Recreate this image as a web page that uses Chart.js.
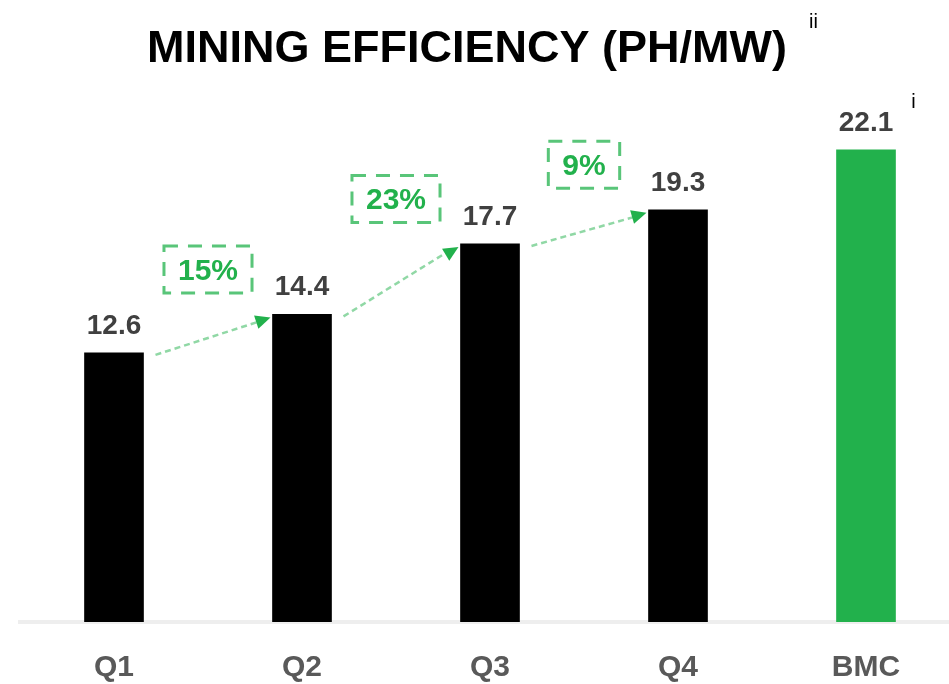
<!DOCTYPE html>
<html>
<head>
<meta charset="utf-8">
<script src="https://cdn.jsdelivr.net/npm/chart.js@4"></script>
<style>
  html, body { margin: 0; padding: 0; background: #fff; overflow: hidden; }
  #wrap { position: absolute; left: -26px; top: 0; width: 986px; height: 684px; }
</style>
</head>
<body>
<div id="wrap"><canvas id="effChart" width="986" height="684"></canvas></div>
<script>
const categories = ['Q1', 'Q2', 'Q3', 'Q4', 'BMC'];
const efficiency = [12.6, 14.4, 17.7, 19.3, 22.1];
const barColors = ['#000000', '#000000', '#000000', '#000000', '#22B14C'];
const growthLabels = ['15%', '23%', '9%'];
const chartTitle = 'MINING EFFICIENCY (PH/MW)';
const titleNote = 'ii';
const bmcNote = 'i';

const GREEN = '#22B14C';
const FONT = '"Liberation Sans", Arial, sans-serif';

// superscript after the title
const titleNotePlugin = {
    id: 'titleNote',
    afterDraw(chart) {
        const ctx = chart.ctx;
        ctx.save();
        ctx.font = 'bold 45px ' + FONT;
        const w = ctx.measureText(chartTitle).width;
        const cx = chart.width / 2;
        ctx.font = '20px ' + FONT;
        ctx.fillStyle = '#000';
        ctx.textAlign = 'left';
        ctx.textBaseline = 'alphabetic';
        ctx.fillText(titleNote, cx + w / 2 + 22, 28);
        ctx.restore();
    }
};

// value labels, growth boxes and arrows
const annotationsPlugin = {
    id: 'annotations',
    afterDatasetsDraw(chart) {
        const ctx = chart.ctx;
        const bars = chart.getDatasetMeta(0).data;
        ctx.save();

        // value labels
        ctx.font = 'bold 28px ' + FONT;
        ctx.fillStyle = '#404040';
        ctx.textAlign = 'center';
        ctx.textBaseline = 'alphabetic';
        bars.forEach((bar, i) => {
            ctx.fillText(efficiency[i].toFixed(1), bar.x, bar.y - 19);
        });

        // footnote mark on BMC label
        const last = bars[bars.length - 1];
        const lw = ctx.measureText(efficiency[efficiency.length - 1].toFixed(1)).width;
        ctx.font = '20px ' + FONT;
        ctx.fillStyle = '#000';
        ctx.textAlign = 'left';
        ctx.fillText(bmcNote, last.x + lw / 2 + 18, last.y - 42);

        // growth arrows + dashed boxes
        growthLabels.forEach((txt, i) => {
            const a = bars[i], b = bars[i + 1];
            const x0 = a.x + a.width / 2 + 12, y0 = a.y + 2;
            const x1 = b.x - b.width / 2 - 2, y1 = b.y + 3;

            ctx.setLineDash([6, 4]);
            ctx.strokeStyle = 'rgba(34,177,76,0.5)';
            ctx.lineWidth = 2.5;
            ctx.beginPath();
            ctx.moveTo(x0, y0);
            ctx.lineTo(x1 - 8, y1 + 3);
            ctx.stroke();
            ctx.setLineDash([]);

            const ang = Math.atan2(y1 - y0, x1 - x0);
            const len = 15, half = 7;
            ctx.fillStyle = GREEN;
            ctx.beginPath();
            ctx.moveTo(x1, y1);
            ctx.lineTo(x1 - len * Math.cos(ang) + half * Math.sin(ang), y1 - len * Math.sin(ang) - half * Math.cos(ang));
            ctx.lineTo(x1 - len * Math.cos(ang) - half * Math.sin(ang), y1 - len * Math.sin(ang) + half * Math.cos(ang));
            ctx.closePath();
            ctx.fill();

            const cx = (a.x + b.x) / 2;
            const cy = b.y - 45;
            ctx.font = 'bold 30px ' + FONT;
            const tw = ctx.measureText(txt).width;
            const bw = tw + 28, bh = 47;
            ctx.setLineDash([14, 10]);
            ctx.strokeStyle = 'rgba(34,177,76,0.75)';
            ctx.lineWidth = 3;
            ctx.strokeRect(cx - bw / 2, cy - bh / 2, bw, bh);
            ctx.setLineDash([]);

            ctx.fillStyle = GREEN;
            ctx.textAlign = 'center';
            ctx.textBaseline = 'middle';
            ctx.fillText(txt, cx, cy + 2);
            ctx.textBaseline = 'alphabetic';
        });
        ctx.restore();
    }
};

const ctx = document.getElementById('effChart').getContext('2d');
new Chart(ctx, {
    type: 'bar',
    data: {
        labels: categories,
        datasets: [{
            data: efficiency,
            backgroundColor: barColors,
            borderWidth: 0,
            barThickness: 59
        }]
    },
    options: {
        responsive: false,
        animation: false,
        layout: { padding: { left: 0, right: 0, top: 0, bottom: 0 } },
        plugins: {
            legend: { display: false },
            tooltip: { enabled: false },
            title: {
                display: true,
                text: chartTitle,
                color: '#000',
                font: { family: FONT, size: 45, weight: 'bold', lineHeight: 1.2 },
                padding: { top: 23, bottom: 11 }
            }
        },
        scales: {
            x: {
                grid: { display: false, drawTicks: false },
                border: { display: true, color: '#eeeeee', width: 4 },
                ticks: {
                    color: '#595959',
                    padding: 31,
                    font: { family: FONT, size: 30, weight: 'bold', lineHeight: 1 }
                },
                afterFit: s => { s.height = 62; }
            },
            y: {
                display: true,
                min: 0,
                max: 25,
                grid: { display: false, drawTicks: false },
                border: { display: false },
                ticks: { display: false },
                afterFit: s => { s.width = 46; }
            }
        }
    },
    plugins: [titleNotePlugin, annotationsPlugin]
});
</script>
</body>
</html>
